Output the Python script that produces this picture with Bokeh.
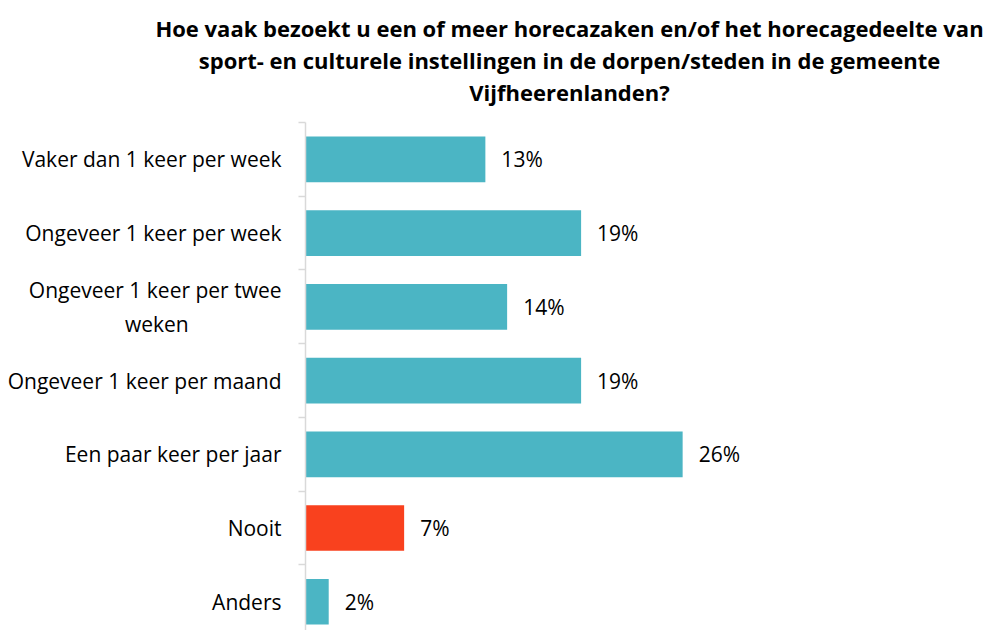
from bokeh.plotting import figure
from bokeh.models import ColumnDataSource, Range1d, FixedTicker, Title
from bokeh.core.properties import value
from bokeh.embed import file_html
from bokeh.resources import INLINE

NB = "\u00a0"
categories = [
    "Vaker dan 1 keer per week",
    "Ongeveer 1 keer per week",
    "Ongeveer 1 keer per twee\nweken" + NB * 17,
    "Ongeveer 1 keer per maand",
    "Een paar keer per jaar",
    "Nooit",
    "Anders",
]
values = [12.4, 19.0, 13.9, 19.0, 26.0, 6.8, 1.6]
labels = ["13%", "19%", "14%", "19%", "26%", "7%", "2%"]
colors = ["#4BB5C4", "#4BB5C4", "#4BB5C4", "#4BB5C4", "#4BB5C4", "#F9411E", "#4BB5C4"]
title_lines = [
    "Hoe vaak bezoekt u een of meer horecazaken en/of het horecagedeelte van",
    "sport- en culturele instellingen in de dorpen/steden in de gemeente",
    "Vijfheerenlanden?",
]

FONT = "Open Sans"
pos = list(range(len(categories)))

src = ColumnDataSource(dict(y=pos, v=values, lab=labels, c=colors))

p = figure(
    width=991, height=630,
    x_range=Range1d(0, 36.4),
    y_range=Range1d(6.39, -0.5),
    output_backend="svg", toolbar_location=None,
    min_border_left=305, min_border_top=122, min_border_bottom=0,
    min_border_right=158,
)
p.outline_line_color = None
p.grid.visible = False
p.xaxis.visible = False

p.hbar(y="y", right="v", left=0, height=0.62, fill_color="c", line_color=None, source=src)
p.text(x="v", y="y", text="lab", source=src, x_offset=16,
       text_baseline="middle", text_align="left",
       text_font=value(FONT), text_font_size="21px", text_color="#000000")

ya = p.yaxis[0]
ya.ticker = FixedTicker(ticks=pos, minor_ticks=[i - 0.5 for i in range(len(categories) + 1)])
ya.major_label_overrides = {i: c for i, c in enumerate(categories)}
ya.major_tick_out = 0
ya.major_tick_in = 0
ya.minor_tick_out = 7
ya.minor_tick_in = 0
ya.minor_tick_line_color = "#D9D9D9"
ya.minor_tick_line_width = 1.5
ya.axis_line_color = "#D9D9D9"
ya.axis_line_width = 1.5
ya.major_label_standoff = 17
ya.major_label_text_font = FONT
ya.major_label_text_font_size = "21px"
ya.major_label_text_color = "#000000"

# small gap between the title block and the plot area
p.add_layout(Title(text=NB, text_font=FONT, text_font_size="10px", standoff=0), "above")
for line in reversed(title_lines):
    p.add_layout(Title(text=line, align="center", text_font=FONT, text_font_size="22px",
                       text_font_style="bold", text_color="#000000", standoff=0), "above")

open("out.html", "w").write(file_html(p, INLINE))
